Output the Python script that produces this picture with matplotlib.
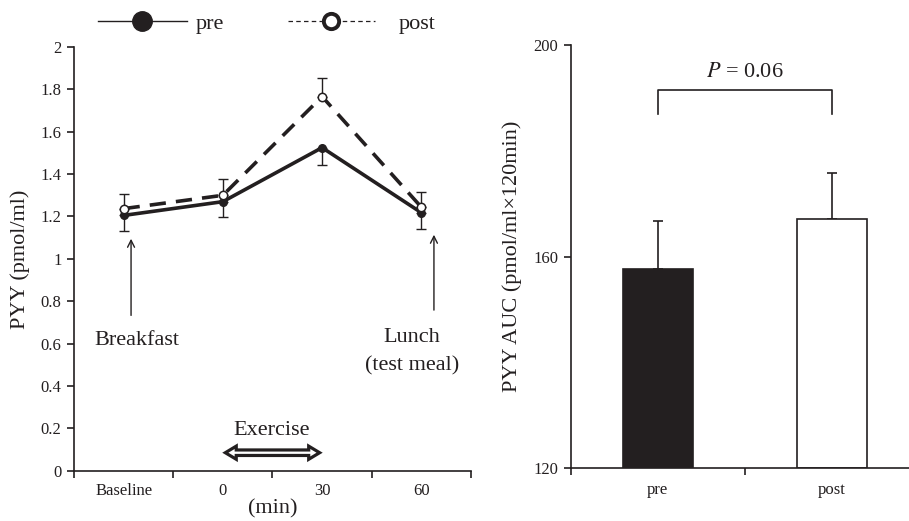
import numpy as np
import matplotlib
matplotlib.use('Agg')
import matplotlib.pyplot as plt
from matplotlib.lines import Line2D
from matplotlib.patches import Polygon

plt.rcParams['font.family'] = ['Liberation Serif', 'DejaVu Serif']
plt.rcParams['mathtext.fontset'] = 'stix'

INK = '#231f20'

# --- data ---
time_labels = ['Baseline', '0', '30', '60']
pyy_pre = [1.205, 1.27, 1.525, 1.218]
pyy_pre_err = [0.075, 0.072, 0.084, 0.077]
pyy_post = [1.237, 1.30, 1.766, 1.244]
pyy_post_err = [0.07, 0.076, 0.09, 0.07]

auc_groups = ['pre', 'post']
auc_mean = [157.7, 167.2]
auc_err = [9.1, 8.7]
p_text = '$P$ = 0.06'

fig = plt.figure(figsize=(9.09, 5.21), dpi=100)

# ---------------- left: time course ----------------
ax = fig.add_axes([0.0814, 0.0965, 0.4367, 0.8133])
x = np.arange(len(time_labels))
zeros = np.zeros(len(x))

ax.errorbar(x, pyy_pre, yerr=[pyy_pre_err, zeros], fmt='none', ecolor=INK,
            elinewidth=1, capsize=3.5, capthick=1, zorder=2)
ax.errorbar(x, pyy_post, yerr=[zeros, pyy_post_err], fmt='none', ecolor=INK,
            elinewidth=1, capsize=3.5, capthick=1, zorder=2)
ax.plot(x, pyy_pre, color=INK, lw=2.6, marker='o', ms=5.5,
        mfc=INK, mec=INK, zorder=3)
ax.plot(x, pyy_post, color=INK, lw=2.6, ls=(0, (4.5, 2.8)), marker='o', ms=6,
        mfc='white', mec=INK, mew=1.1, zorder=4)

ax.set_xlim(-0.5, len(x) - 0.5)
ax.set_ylim(0, 2)
yt = np.round(np.arange(0, 2.01, 0.2), 1)
ax.set_yticks(yt)
ax.set_yticklabels([f'{v:g}' for v in yt])
ax.set_xticks(x)
ax.set_xticklabels(time_labels)
ax.set_xticks(np.arange(-0.5, len(x), 1), minor=True)
ax.tick_params(axis='x', which='major', length=0, pad=9, labelsize=12, colors=INK)
ax.tick_params(axis='x', which='minor', length=5, width=1.2, color=INK, direction='out')
ax.tick_params(axis='y', length=5, width=1.2, labelsize=12, colors=INK, pad=4)
for s in ['top', 'right']:
    ax.spines[s].set_visible(False)
for s in ['left', 'bottom']:
    ax.spines[s].set_color(INK)
    ax.spines[s].set_linewidth(1.2)

ax.set_xlabel('(min)', fontsize=16, color=INK, labelpad=0)
ax.set_ylabel('PYY (pmol/ml)', fontsize=16, color=INK)
ax.yaxis.set_label_coords(-0.11, 0.5)

# meal arrows
ax.annotate('', xy=(0.075, 1.108), xytext=(0.075, 0.72),
            arrowprops=dict(arrowstyle='->,head_length=0.5,head_width=0.25', lw=1, color=INK))
ax.text(0.135, 0.615, 'Breakfast', fontsize=16, color=INK, ha='center', va='center')
ax.annotate('', xy=(3.127, 1.127), xytext=(3.127, 0.745),
            arrowprops=dict(arrowstyle='->,head_length=0.5,head_width=0.25', lw=1, color=INK))
ax.text(2.9, 0.628, 'Lunch', fontsize=16, color=INK, ha='center', va='center')
ax.text(2.905, 0.497, '(test meal)', fontsize=16, color=INK, ha='center', va='center', clip_on=False)

# exercise period: hollow double-headed arrow from 0 to 30 min
ex_start, ex_end, ex_y = 1.0, 2.0, 0.085
tip_in, head_len, head_half, shaft_half = 0.025, 0.11, 0.031, 0.013
a, b = ex_start + tip_in, ex_end - tip_in
outline = [(a, ex_y), (a + head_len, ex_y + head_half), (a + head_len, ex_y + shaft_half),
           (b - head_len, ex_y + shaft_half), (b - head_len, ex_y + head_half), (b, ex_y),
           (b - head_len, ex_y - head_half), (b - head_len, ex_y - shaft_half),
           (a + head_len, ex_y - shaft_half), (a + head_len, ex_y - head_half)]
ax.add_patch(Polygon(outline, closed=True, fc='white', ec=INK, lw=2.3,
                     joinstyle='miter', zorder=3))
ax.text(1.495, 0.19, 'Exercise', fontsize=16, color=INK, ha='center', va='center')

# legend above the panel (two separate pieces to match spacing)
h_pre = Line2D([], [], color=INK, lw=1.0, marker='o', ms=14, mfc=INK, mec=INK)
h_post = Line2D([], [], color=INK, lw=0.9, ls=(0, (3.6, 2.6)), marker='o', ms=11,
                mfc='white', mec=INK, mew=2.8)
leg1 = fig.legend([h_pre], ['pre'], loc='center left',
                  bbox_to_anchor=(98 / 909, 0.954), frameon=False, fontsize=16,
                  handlelength=4.0, handletextpad=0.4,
                  labelcolor=INK, borderaxespad=0, borderpad=0)
leg2 = fig.legend([h_post], ['post'], loc='center left',
                  bbox_to_anchor=(288 / 909, 0.954), frameon=False, fontsize=16,
                  handlelength=3.9, handletextpad=1.1,
                  labelcolor=INK, borderaxespad=0, borderpad=0)

# ---------------- right: AUC bars ----------------
bx = fig.add_axes([0.6278, 0.1023, 0.3832, 0.8107])
xb = np.arange(len(auc_groups))
bx.bar(xb, [m - 120 for m in auc_mean], bottom=120, width=0.4,
       color=[INK, 'white'], edgecolor=INK, linewidth=1.2, zorder=2)
bx.errorbar(xb, auc_mean, yerr=[np.zeros(len(xb)), auc_err], fmt='none', ecolor=INK,
            elinewidth=1.2, capsize=3.5, capthick=1.2, zorder=1)

bx.set_xlim(-0.5, len(xb) - 0.5)
bx.set_ylim(120, 200)
bx.set_yticks([120, 160, 200])
bx.set_xticks(xb)
bx.set_xticklabels(auc_groups)
bx.set_xticks(np.arange(-0.5, len(xb), 1), minor=True)
bx.tick_params(axis='x', which='major', length=0, pad=10, labelsize=12, colors=INK)
bx.tick_params(axis='x', which='minor', length=5, width=1.2, color=INK, direction='out')
bx.tick_params(axis='y', length=5, width=1.2, labelsize=12, colors=INK, pad=4)
for s in ['top', 'right']:
    bx.spines[s].set_visible(False)
for s in ['left', 'bottom']:
    bx.spines[s].set_color(INK)
    bx.spines[s].set_linewidth(1.2)
bx.set_ylabel('PYY AUC (pmol/ml×120min)', fontsize=16, color=INK)
bx.yaxis.set_label_coords(-0.14, 0.5)

# significance bracket
br_top, br_leg = 191.6, 186.9
bx.plot([xb[0], xb[0], xb[1], xb[1]], [br_leg, br_top, br_top, br_leg], color=INK, lw=1.2)
bx.text(xb.mean(), br_top + 3.3, p_text, fontsize=16, color=INK, ha='center', va='center')

fig.savefig('out.png', dpi=100)
